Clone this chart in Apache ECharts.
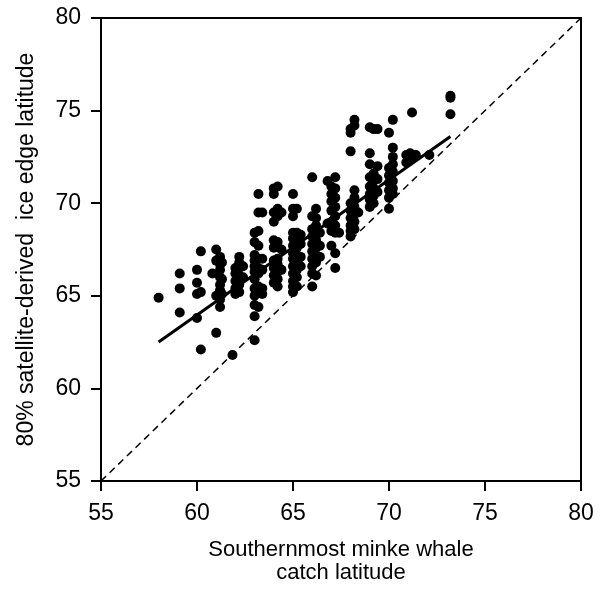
<!DOCTYPE html>
<html>
<head>
<meta charset="utf-8">
<script src="https://cdn.jsdelivr.net/npm/echarts@6/dist/echarts.min.js"></script>
<style>
  html, body { margin: 0; padding: 0; background: #fff; }
  #chart { width: 607px; height: 589px; }
</style>
</head>
<body>
<div id="chart"></div>
<script>
// catch latitudes come in columns, each with its own list of ice edge latitudes
let catchCols = [58.0, 59.1, 60.0, 60.2, 60.8, 61.0, 61.2, 61.3, 61.85, 62.0, 62.2, 62.4,
    63.0, 63.2, 63.4, 64.0, 64.2, 64.4, 65.0, 65.2, 65.4, 66.0, 66.2, 66.4, 66.8,
    67.0, 67.2, 67.4, 68.0, 68.2, 68.4, 69.0, 69.2, 69.4, 70.0, 70.2, 70.9, 71.1,
    71.2, 71.4, 72.1, 73.2];
let iceCols = [
    [64.9],
    [66.2, 65.4, 64.1],
    [66.4, 65.7, 65.1, 63.8],
    [67.4, 65.2, 62.1],
    [66.2],
    [67.5, 66.9, 65.0, 63.0],
    [67.1, 66.7, 66.4, 66.0, 65.6, 65.3, 64.8, 64.4],
    [66.8, 65.9, 65.1],
    [61.8],
    [66.5, 66.2, 65.8, 65.4, 65.1],
    [67.1, 66.8, 66.5, 66.1, 65.6, 65.2],
    [66.6, 66.0],
    [68.4, 67.9, 67.2, 66.9, 66.6, 66.3, 65.9, 65.4, 65.0, 64.5, 63.9, 62.6],
    [70.5, 69.5, 68.5, 67.7, 67.0, 66.5, 66.2, 65.5, 64.4],
    [69.5, 67.0, 66.4, 65.4, 65.1],
    [70.8, 70.5, 69.5, 69.0, 68.0, 67.6, 66.9, 66.5, 66.1, 65.7],
    [70.9, 69.7, 69.3, 67.9, 67.0, 66.7, 66.3, 65.9, 65.5],
    [69.5, 67.5, 66.4],
    [70.5, 69.7, 69.3, 68.4, 68.1, 67.7, 67.3, 67.0, 66.6, 66.2, 65.8, 65.5, 65.2],
    [69.7, 68.4, 68.0, 67.6, 67.2, 66.8, 66.4, 66.0, 65.5],
    [68.3, 67.8, 67.1, 66.6],
    [71.4, 69.3, 68.6, 68.2, 67.8, 67.4, 67.0, 66.6, 66.2, 65.5],
    [69.7, 69.2, 68.8, 68.4, 68.0, 67.6, 67.2, 66.8, 66.1],
    [68.4, 67.7, 67.1],
    [71.2, 68.9],
    [70.9, 70.5, 70.1, 69.6, 69.0, 68.5, 67.7],
    [71.4, 70.8, 70.3, 69.8, 69.3, 68.8, 68.4, 67.3, 66.5],
    [68.4],
    [74.0, 73.8, 72.8, 70.0, 69.6, 69.2, 68.8, 68.5, 68.2],
    [74.5, 74.2, 70.7, 70.3, 69.8, 69.4, 69.0, 68.6],
    [69.5],
    [74.1, 72.7, 72.1, 71.4, 70.9, 70.5, 70.2, 69.8],
    [74.0, 71.6, 71.2, 70.8, 70.4, 70.0],
    [74.0, 72.0, 71.3, 70.6],
    [73.8, 71.9, 71.5, 71.1, 70.7, 70.3, 69.7],
    [74.5, 73.0, 72.5, 72.1, 71.7, 71.2, 70.8, 70.5],
    [72.6, 72.2],
    [72.7, 72.4],
    [74.9],
    [72.6],
    [72.6],
    [75.8, 75.7, 74.8]
];
let fitX = [58.0, 73.2];
let fitY = [62.5, 73.6];
let oneToOne = [55, 80];

let points = [];
for (let i = 0; i < catchCols.length; i++) {
    for (let j = 0; j < iceCols[i].length; j++) {
        points.push([catchCols[i], iceCols[i][j]]);
    }
}

let font = 'Liberation Sans, Arial, sans-serif';
let axisCommon = {
    type: 'value',
    min: 55,
    max: 80,
    interval: 5,
    nameLocation: 'middle',
    axisLine: { show: true, onZero: false, lineStyle: { color: '#000', width: 2 } },
    axisTick: { show: true, inside: false, length: 10, lineStyle: { color: '#000', width: 2 } },
    splitLine: { show: false }
};

let option = {
    animation: false,
    backgroundColor: '#fff',
    grid: {
        left: 101, top: 18, right: 26, bottom: 106,
        show: true, borderColor: '#000', borderWidth: 2
    },
    xAxis: Object.assign({}, axisCommon, {
        name: 'Southernmost minke whale\ncatch latitude',
        nameGap: 57,
        nameTextStyle: { color: '#000', fontSize: 22, fontFamily: font, lineHeight: 23 },
        axisLabel: { color: '#000', fontSize: 23, fontFamily: font, margin: 21 }
    }),
    yAxis: Object.assign({}, axisCommon, {
        name: '80% satellite-derived  ice edge latitude',
        nameGap: 63,
        nameTextStyle: { color: '#000', fontSize: 23, fontFamily: font },
        axisLabel: { color: '#000', fontSize: 23, fontFamily: font, margin: 20 }
    }),
    series: [
        {
            type: 'line',
            data: [[oneToOne[0], oneToOne[0]], [oneToOne[1], oneToOne[1]]],
            symbol: 'none',
            lineStyle: { color: '#000', width: 1.5, type: [7, 5] },
            z: 1
        },
        {
            type: 'scatter',
            data: points,
            symbol: 'circle',
            symbolSize: 10,
            itemStyle: { color: '#000', opacity: 1 },
            z: 2
        },
        {
            type: 'line',
            data: [[fitX[0], fitY[0]], [fitX[1], fitY[1]]],
            symbol: 'none',
            lineStyle: { color: '#000', width: 3 },
            z: 3
        }
    ]
};

let myChart = echarts.init(document.getElementById('chart'));
myChart.setOption(option);
</script>
</body>
</html>
